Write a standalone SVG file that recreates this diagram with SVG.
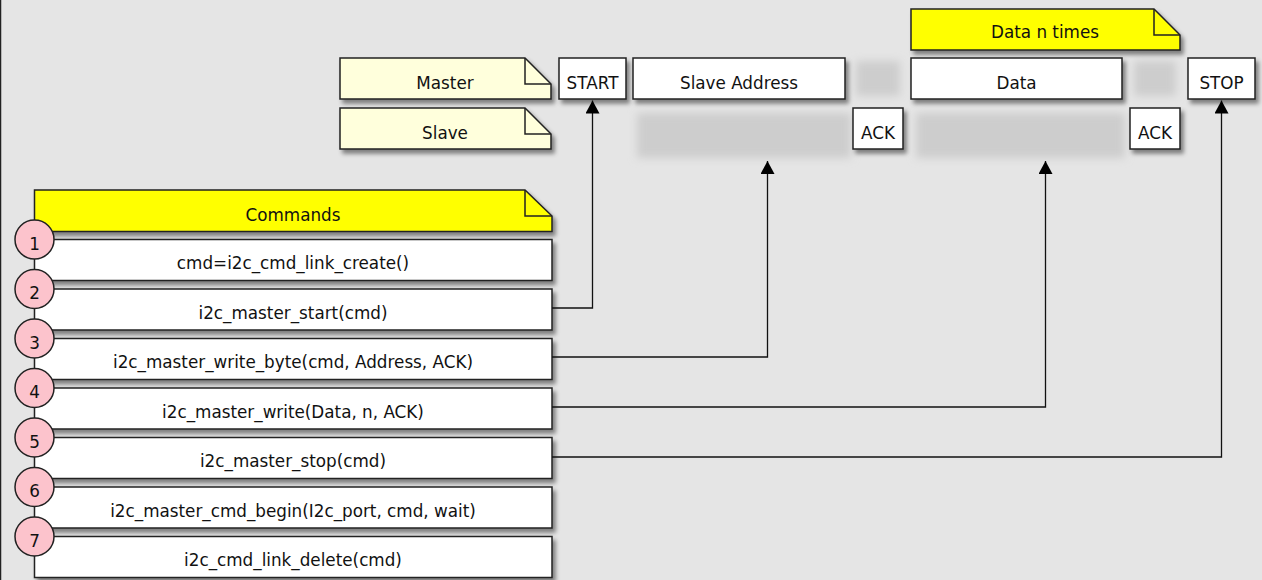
<svg xmlns="http://www.w3.org/2000/svg" width="1262" height="580" viewBox="0 0 1262 580">
<defs>
<style>
.bx{fill:#ffffff;stroke:#222;stroke-width:1.5;filter:url(#sh)}
.note{fill:#ffffdc;stroke:#222;stroke-width:1.5;filter:url(#sh)}
.ynote{fill:#ffff00;stroke:#222;stroke-width:1.5;filter:url(#sh)}
.fold{fill:none;stroke:#222;stroke-width:1.5}
.ghost{fill:#cdcdcd;filter:url(#bl)}
.num{fill:#fcc3cc;stroke:#222;stroke-width:1.5}
text{font-family:"DejaVu Sans","Liberation Sans",sans-serif;font-size:16.8px;fill:#111;text-anchor:middle}
.con{fill:none;stroke:#111;stroke-width:1.3;marker-end:url(#ah)}
</style>
<filter id="sh" x="-10%" y="-20%" width="130%" height="150%">
<feDropShadow dx="3" dy="4" stdDeviation="2" flood-color="#000" flood-opacity="0.45"/>
</filter>
<filter id="bl" x="-30%" y="-40%" width="160%" height="180%">
<feGaussianBlur stdDeviation="4"/>
</filter>
<marker id="ah" markerUnits="userSpaceOnUse" markerWidth="14" markerHeight="14" viewBox="0 0 14 14" refX="13" refY="7" orient="auto">
<path d="M0,0 L13,7 L0,14 z" fill="#000"/>
</marker>
</defs>
<rect x="0" y="0" width="1262" height="580" fill="#e5e5e5"/>
<line x1="0.5" y1="0" x2="0.5" y2="580" stroke="#222" stroke-width="1.5"/>

<g id="ghosts">
<rect class="ghost" x="856" y="61" width="44" height="35"/>
<rect class="ghost" x="1134" y="61" width="42" height="35"/>
<rect class="ghost" x="637" y="113" width="214" height="45"/>
<rect class="ghost" x="916" y="113" width="209" height="45"/>
</g>

<g id="note-master">
<path class="note" d="M340,58 H525 L551,84 V99 H340 Z"/>
<path class="fold" d="M525,58 V84 H551"/>
<text x="445" y="89">Master</text>
</g>
<g id="note-slave">
<path class="note" d="M340,108 H525 L551,134 V149 H340 Z"/>
<path class="fold" d="M525,108 V134 H551"/>
<text x="445" y="139">Slave</text>
</g>
<g id="note-data-n">
<path class="ynote" d="M911,9 H1154 L1180,35 V50 H911 Z"/>
<path class="fold" d="M1154,9 V35 H1180"/>
<text x="1045" y="38">Data n times</text>
</g>

<g id="start"><rect class="bx" x="559" y="58" width="67" height="41"/><text x="592.5" y="89">START</text></g>
<g id="slave-address"><rect class="bx" x="633" y="58" width="212" height="41"/><text x="739" y="89">Slave Address</text></g>
<g id="ack1"><rect class="bx" x="853" y="108" width="50" height="41"/><text x="878" y="139">ACK</text></g>
<g id="data"><rect class="bx" x="911" y="58" width="211" height="41"/><text x="1016.5" y="89">Data</text></g>
<g id="ack2"><rect class="bx" x="1130" y="108" width="50" height="41"/><text x="1155" y="139">ACK</text></g>
<g id="stop"><rect class="bx" x="1188" y="58" width="67" height="41"/><text x="1221.5" y="89">STOP</text></g>

<g id="commands-header">
<path class="ynote" d="M34.5,190 H525 L552,216 V231.5 H34.5 Z"/>
<path class="fold" d="M525,190 V216 H552"/>
<text x="293" y="221">Commands</text>
</g>

<g id="cmd1"><rect class="bx" x="34.5" y="239.5" width="517.5" height="41"/><text x="293" y="269">cmd=i2c_cmd_link_create()</text></g>
<g id="cmd2"><rect class="bx" x="34.5" y="289" width="517.5" height="41"/><text x="293" y="318.5">i2c_master_start(cmd)</text></g>
<g id="cmd3"><rect class="bx" x="34.5" y="338.5" width="517.5" height="41"/><text x="293" y="368">i2c_master_write_byte(cmd, Address, ACK)</text></g>
<g id="cmd4"><rect class="bx" x="34.5" y="388" width="517.5" height="41"/><text x="293" y="417.5">i2c_master_write(Data, n, ACK)</text></g>
<g id="cmd5"><rect class="bx" x="34.5" y="437.5" width="517.5" height="41"/><text x="293" y="467">i2c_master_stop(cmd)</text></g>
<g id="cmd6"><rect class="bx" x="34.5" y="487" width="517.5" height="41"/><text x="293" y="516.5">i2c_master_cmd_begin(I2c_port, cmd, wait)</text></g>
<g id="cmd7"><rect class="bx" x="34.5" y="536.5" width="517.5" height="41"/><text x="293" y="566">i2c_cmd_link_delete(cmd)</text></g>

<g id="steps">
<circle class="num" cx="34.5" cy="239.5" r="19.5"/><text x="34.5" y="249.5">1</text>
<circle class="num" cx="34.5" cy="289" r="19.5"/><text x="34.5" y="299">2</text>
<circle class="num" cx="34.5" cy="338.5" r="19.5"/><text x="34.5" y="348.5">3</text>
<circle class="num" cx="34.5" cy="388" r="19.5"/><text x="34.5" y="398">4</text>
<circle class="num" cx="34.5" cy="437.5" r="19.5"/><text x="34.5" y="447.5">5</text>
<circle class="num" cx="34.5" cy="487" r="19.5"/><text x="34.5" y="497">6</text>
<circle class="num" cx="34.5" cy="536.5" r="19.5"/><text x="34.5" y="546.5">7</text>
</g>

<g id="connectors">
<polyline class="con" points="552,308 592.5,308 592.5,100.5"/>
<polyline class="con" points="552,357 767.5,357 767.5,161"/>
<polyline class="con" points="552,407 1045.5,407 1045.5,161"/>
<polyline class="con" points="552,457 1221.5,457 1221.5,100.5"/>
</g>
</svg>
